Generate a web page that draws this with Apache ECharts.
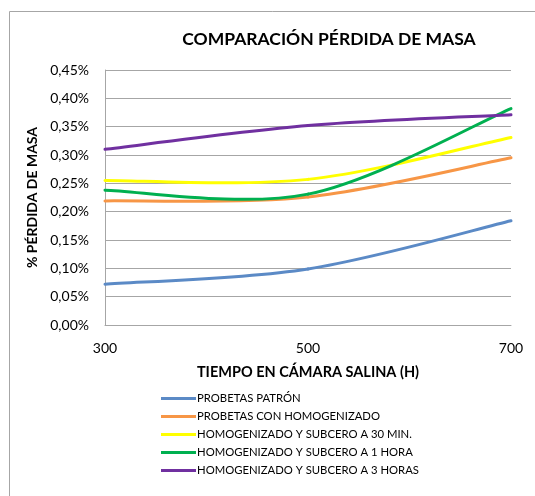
<!DOCTYPE html>
<html>
<head>
<meta charset="utf-8">
<script src="https://cdn.jsdelivr.net/npm/echarts@6/dist/echarts.min.js"></script>
<style>
html,body{margin:0;padding:0;background:#fff;}
#c{width:535px;height:496px;}
</style>
</head>
<body>
<div id="c"></div>
<script>
var xValues = [300, 500, 700];
var seriesNames = [
  'PROBETAS PATRÓN',
  'PROBETAS CON HOMOGENIZADO',
  'HOMOGENIZADO Y SUBCERO A 30 MIN.',
  'HOMOGENIZADO Y SUBCERO A 1 HORA',
  'HOMOGENIZADO Y SUBCERO A 3 HORAS'
];
var patron = [0.072, 0.099, 0.184];
var conHomog = [0.219, 0.226, 0.295];
var sub30 = [0.255, 0.257, 0.331];
var sub1h = [0.238, 0.231, 0.382];
var sub3h = [0.310, 0.352, 0.371];
var yTicks = [0, 0.05, 0.10, 0.15, 0.20, 0.25, 0.30, 0.35, 0.40, 0.45];
var colors = ['#5B8AC6', '#F79646', '#FFFF00', '#00B050', '#7030A0'];
var allValues = [patron, conHomog, sub30, sub1h, sub3h];

var font = 'Lato, "Open Sans", sans-serif';
var chart = echarts.init(document.getElementById('c'));

// Smoothed line (Catmull-Rom style, like spreadsheet "smoothed line"),
// each data item draws the segment to the next point via the axis scales.
function makeRenderItem(vals, color) {
  return function (params, api) {
    var i = params.dataIndex;
    var n = vals.length;
    if (i >= n - 1) return null;
    var pts = [];
    for (var k = 0; k < n; k++) pts.push(api.coord([xValues[k], vals[k]]));
    var p0 = pts[Math.max(i - 1, 0)];
    var p1 = pts[i];
    var p2 = pts[i + 1];
    var p3 = pts[Math.min(i + 2, n - 1)];
    return {
      type: 'bezierCurve',
      shape: {
        x1: p1[0], y1: p1[1],
        x2: p2[0], y2: p2[1],
        cpx1: p1[0] + (p2[0] - p0[0]) / 6,
        cpy1: p1[1] + (p2[1] - p0[1]) / 6,
        cpx2: p2[0] - (p3[0] - p1[0]) / 6,
        cpy2: p2[1] - (p3[1] - p1[1]) / 6
      },
      style: { fill: null, stroke: color, lineWidth: 3, lineCap: 'round' }
    };
  };
}

var series = allValues.map(function (vals, i) {
  return {
    name: seriesNames[i],
    type: 'custom',
    renderItem: makeRenderItem(vals, colors[i]),
    data: xValues.map(function (x, j) { return [x, vals[j]]; }),
    itemStyle: { color: colors[i] },
    encode: { x: 0, y: 1 },
    z: 2 + i
  };
});

chart.setOption({
  animation: false,
  backgroundColor: '#fff',
  color: colors,
  graphic: [{
    type: 'rect',
    shape: { x: 9.5, y: 11.5, width: 700, height: 700 },
    style: { fill: 'none', stroke: '#A6A6A6', lineWidth: 1 },
    silent: true
  }],
  title: {
    text: 'COMPARACIÓN PÉRDIDA DE MASA',
    left: 324, top: 25, textAlign: 'center',
    textStyle: { fontFamily: font, fontSize: 17.5, fontWeight: 'bold', color: '#000' }
  },
  legend: {
    orient: 'vertical',
    left: 156, top: 388,
    itemWidth: 35, itemHeight: 3, itemGap: 7,
    icon: 'rect',
    data: seriesNames.map(function (n, i) { return { name: n, itemStyle: { color: colors[i] } }; }),
    textStyle: { fontFamily: font, fontSize: 11.3, color: '#000', padding: [0, 0, 0, -4] }
  },
  grid: { left: 105, right: 24, top: 70, bottom: 171, containLabel: false },
  xAxis: {
    type: 'value', min: 300, max: 700, interval: 200,
    name: 'TIEMPO EN CÁMARA SALINA (H)',
    nameLocation: 'middle', nameGap: 40,
    nameTextStyle: { fontFamily: font, fontSize: 14.5, fontWeight: 'bold', color: '#000' },
    axisLine: { show: true, lineStyle: { color: '#A6A6A6', width: 1 } },
    axisTick: { show: false },
    splitLine: { show: false },
    axisLabel: { fontFamily: font, fontSize: 14, color: '#000', margin: 16 }
  },
  yAxis: {
    type: 'value', min: yTicks[0], max: yTicks[yTicks.length - 1], interval: 0.05,
    name: '% PÉRDIDA DE MASA',
    nameLocation: 'middle', nameGap: 65, nameRotate: 90,
    nameTextStyle: { fontFamily: font, fontSize: 14, fontWeight: 'bold', color: '#000' },
    axisLine: { show: true, lineStyle: { color: '#A6A6A6', width: 1 } },
    axisTick: { show: false },
    splitLine: { show: true, lineStyle: { color: '#A6A6A6', width: 1 } },
    axisLabel: {
      fontFamily: font, fontSize: 14, color: '#000', margin: 16,
      formatter: function (v) { return v.toFixed(2).replace('.', ',') + '%'; }
    }
  },
  series: series
});
</script>
</body>
</html>
